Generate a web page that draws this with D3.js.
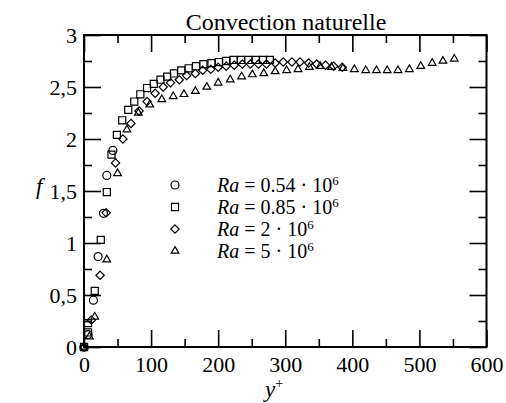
<!DOCTYPE html>
<html><head><meta charset="utf-8">
<script src="https://cdn.jsdelivr.net/npm/d3@7"></script>
<style>
body{margin:0;background:#fff;}
svg{display:block;}
svg text{font-family:"Liberation Serif","Tinos","Times New Roman","DejaVu Serif",serif;fill:#000;}
</style></head><body>
<svg id="c" width="506" height="403"></svg>
<script>
// ---- data ----
const seriesNames = ["Ra = 0.54", "Ra = 0.85", "Ra = 2", "Ra = 5"];
const legendCoef = ["0.54", "0.85", "2", "5"];
const legendExp = "6";
const circleX = [0, 6, 14, 21, 29, 34, 43];
const circleF = [0, 0.12, 0.45, 0.87, 1.285, 1.65, 1.89];
const squareX = [0, 6, 6, 16, 25, 34, 41, 49, 57, 66, 75, 84, 94, 104, 114, 124, 134, 145, 156, 167, 178, 190, 201, 212, 223, 234, 245, 256, 267, 277];
const squareF = [0, 0.14, 0.23, 0.54, 1.03, 1.49, 1.85, 2.04, 2.18, 2.28, 2.36, 2.43, 2.49, 2.53, 2.57, 2.6, 2.63, 2.66, 2.68, 2.7, 2.72, 2.73, 2.74, 2.75, 2.76, 2.76, 2.76, 2.76, 2.76, 2.76];
const diamondX = [0, 11, 24, 33, 47, 58, 70, 82, 94, 106, 118, 129, 142, 153, 166, 177, 189, 200, 212, 224, 236, 248, 260, 272, 285, 297, 310, 322, 335, 347, 360, 372, 385];
const diamondF = [0, 0.26, 0.69, 1.29, 1.77, 2.0, 2.15, 2.27, 2.36, 2.44, 2.5, 2.54, 2.57, 2.61, 2.63, 2.66, 2.67, 2.69, 2.7, 2.71, 2.72, 2.72, 2.72, 2.72, 2.73, 2.74, 2.74, 2.74, 2.73, 2.72, 2.71, 2.7, 2.69];
const triangleX = [0, 8, 16, 34, 50, 64, 81, 98, 116, 133, 149, 166, 183, 200, 218, 235, 251, 268, 285, 302, 319, 336, 352, 369, 386, 403, 420, 436, 452, 468, 485, 502, 519, 535, 552];
const triangleF = [0, 0.1, 0.29, 0.84, 1.67, 2.09, 2.25, 2.33, 2.38, 2.41, 2.43, 2.46, 2.5, 2.54, 2.57, 2.6, 2.62, 2.63, 2.65, 2.66, 2.67, 2.69, 2.7, 2.69, 2.68, 2.67, 2.66, 2.66, 2.66, 2.66, 2.67, 2.7, 2.73, 2.75, 2.77];
const xTicks = [0, 100, 200, 300, 400, 500, 600];
const xMinor = [50, 150, 250, 350, 450, 550];
const yTicks = [0, 0.5, 1, 1.5, 2, 2.5, 3];
const yMinor = [0.25, 0.75, 1.25, 1.75, 2.25, 2.75];
const title = "Convection naturelle";

// ---- layout ----
const L = 84, R = 486.5, T = 35, B = 347;
const svg = d3.select("#c");
const x = d3.scaleLinear().domain([0, 600]).range([L, R]);
const y = d3.scaleLinear().domain([0, 3]).range([B, T]);
const fmtY = d => String(d).replace(".", ",");

function axis(gen, tr, vals, size, labels, fmt) {
  const g = svg.append("g").attr("transform", tr)
    .call(gen.tickValues(vals).tickSize(size).tickPadding(labels ? 22 : 0)
      .tickFormat(labels ? fmt : () => ""));
  g.attr("font-family", null).attr("font-size", null);
  g.select(".domain").remove();
  g.selectAll(".tick line").attr("stroke", "#000").attr("stroke-width", 1.6);
  g.selectAll(".tick text").style("font-size", "22px").attr("fill", "#000");
  return g;
}
// bottom
axis(d3.axisBottom(x), `translate(0,${B})`, xTicks, -17, true, d => d)
  .selectAll(".tick text").attr("dy", "0").attr("y", 25);
axis(d3.axisBottom(x), `translate(0,${B})`, xMinor, -8, false);
// top
axis(d3.axisTop(x), `translate(0,${T})`, xTicks, -17, false);
axis(d3.axisTop(x), `translate(0,${T})`, xMinor, -8, false);
// left
axis(d3.axisLeft(y), `translate(${L},0)`, yTicks, -17, true, fmtY)
  .selectAll(".tick text").attr("x", -7).attr("dy", "0.34em");
axis(d3.axisLeft(y), `translate(${L},0)`, yMinor, -8, false);
// right
axis(d3.axisRight(y), `translate(${R},0)`, yTicks, -17, false);
axis(d3.axisRight(y), `translate(${R},0)`, yMinor, -8, false);

// frame
svg.append("rect").attr("x", L).attr("y", T).attr("width", R - L).attr("height", B - T)
  .attr("fill", "none").attr("stroke", "#000").attr("stroke-width", 2);

// symbols
const symDefs = [
  {type: d3.symbolCircle, size: 50},
  {type: d3.symbolSquare, size: 50},
  {type: d3.symbolDiamond2 || d3.symbolDiamond, size: 44},
  {type: d3.symbolTriangle2 || d3.symbolTriangle, size: 42}
];
const data = [
  circleX.map((v, i) => [v, circleF[i]]),
  squareX.map((v, i) => [v, squareF[i]]),
  diamondX.map((v, i) => [v, diamondF[i]]),
  triangleX.map((v, i) => [v, triangleF[i]])
];
data.forEach((pts, k) => {
  const sym = d3.symbol().type(symDefs[k].type).size(symDefs[k].size);
  svg.append("g").selectAll("path").data(pts).join("path")
    .attr("d", sym)
    .attr("transform", d => `translate(${x(d[0])},${y(d[1])})`)
    .attr("fill", "none").attr("stroke", "#000").attr("stroke-width", 1.2);
});

// legend
const legY = [185, 207, 229, 251];
seriesNames.forEach((n, k) => {
  const sym = d3.symbol().type(symDefs[k].type).size(symDefs[k].size);
  svg.append("path").attr("d", sym)
    .attr("transform", `translate(175,${legY[k]})`)
    .attr("fill", "none").attr("stroke", "#000").attr("stroke-width", 1.2);
  const t = svg.append("text").attr("x", 217).attr("y", legY[k] + 7).style("font-size", "20px");
  t.append("tspan").text("Ra").style("font-style", "italic");
  t.append("tspan").text(" = " + legendCoef[k] + " · 10");
  t.append("tspan").text(legendExp).attr("dy", -7).style("font-size", "13px");
});

// title and labels
svg.append("text").attr("x", 286).attr("y", 30).attr("text-anchor", "middle")
  .style("font-size", "24px").text(title);
const xl = svg.append("text").attr("x", 265).attr("y", 397).style("font-size", "23px");
xl.append("tspan").text("y").style("font-style", "italic");
xl.append("tspan").text("+").attr("dy", -9).style("font-size", "14px");
svg.append("text").attr("x", 36).attr("y", 194).style("font-size", "23px")
  .style("font-style", "italic").text("f");
</script></body></html>
